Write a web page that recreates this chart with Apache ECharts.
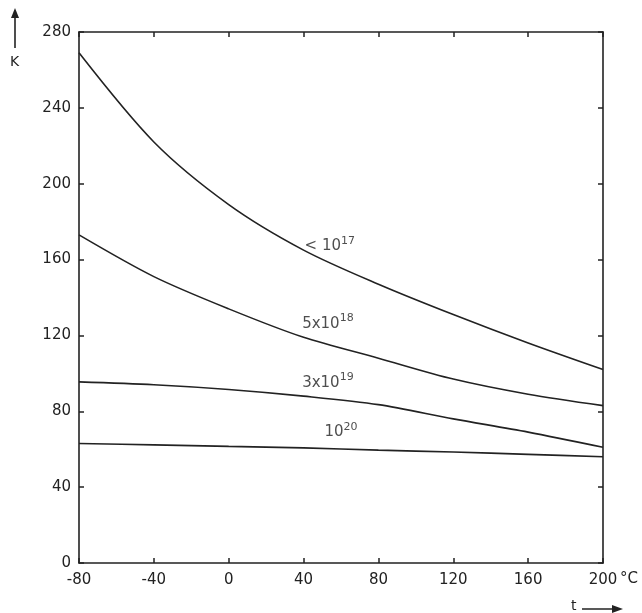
<!DOCTYPE html>
<html>
<head>
<meta charset="utf-8">
<script src="https://cdn.jsdelivr.net/npm/echarts@6/dist/echarts.min.js"></script>
<style>
  html, body { margin: 0; padding: 0; background: #fff; }
  #chart { width: 642px; height: 613px; }
</style>
</head>
<body>
<div id="chart"></div>
<script>
// temperature in °C
const temps = [-80, -40, 0, 40, 80, 120, 160, 200]
// K values, one array per doping level
const kLow17 = [269, 222, 189, 165, 147, 131, 116, 102]
const k5e18 = [173, 151, 134, 119, 108, 97, 89, 83]
const k3e19 = [95.5, 94, 91.5, 88, 83.5, 76, 69, 61]
const k1e20 = [63, 62.3, 61.5, 60.7, 59.5, 58.5, 57.3, 56]
// curve labels: [t, K] in data units + text parts
const curveLabels = [
  { pos: [54, 167], base: '< 10', exp: '17' },
  { pos: [53, 126], base: '5x10', exp: '18' },
  { pos: [53, 95], base: '3x10', exp: '19' },
  { pos: [60, 69], base: '10', exp: '20' }
]

const ink = '#222'
const font = 'DejaVu Sans'

function zip (xs, ys) {
  return xs.map((x, i) => [x, ys[i]])
}

function curve (vals) {
  return {
    type: 'line',
    data: zip(temps, vals),
    smooth: 0.3,
    symbol: 'none',
    lineStyle: { color: ink, width: 1.6 }
  }
}

const myChart = echarts.init(document.getElementById('chart'))

const axisCommon = {
  type: 'value',
  axisLine: { show: true, onZero: false, lineStyle: { color: ink, width: 1.6 } },
  axisTick: { show: true, inside: true, length: 5, lineStyle: { color: ink, width: 1.5 } },
  splitLine: { show: false }
}

const option = {
  animation: false,
  backgroundColor: '#fff',
  grid: { left: 79, right: 39, top: 32, bottom: 50 },
  xAxis: [
    Object.assign({}, axisCommon, {
      min: -80, max: 200, interval: 40,
      axisLabel: { color: ink, fontFamily: font, fontSize: 15, margin: 10 }
    }),
    Object.assign({}, axisCommon, {
      position: 'top', min: -80, max: 200, interval: 40,
      axisLabel: { show: false }
    })
  ],
  yAxis: [
    Object.assign({}, axisCommon, {
      min: 0, max: 280, interval: 40,
      axisLabel: { color: ink, fontFamily: font, fontSize: 15, margin: 8 }
    }),
    Object.assign({}, axisCommon, {
      position: 'right', min: 0, max: 280, interval: 40,
      axisLabel: { show: false }
    })
  ],
  series: [
    curve(kLow17),
    curve(k5e18),
    curve(k3e19),
    curve(k1e20),
    {
      type: 'scatter',
      symbolSize: 0,
      itemStyle: { color: ink },
      data: curveLabels.map(l => ({ value: l.pos, base: l.base, exp: l.exp })),
      label: {
        show: true,
        position: 'inside',
        color: ink,
        textBorderWidth: 0,
        formatter: p => '{b|' + p.data.base + '}{s|' + p.data.exp + '}',
        rich: {
          b: { fontFamily: font, fontSize: 15, color: ink, textBorderWidth: 0 },
          s: { fontFamily: font, fontSize: 11, color: ink, textBorderWidth: 0, padding: [0, 0, 11, 0] }
        }
      }
    }
  ],
  graphic: [
    { type: 'line', shape: { x1: 15, y1: 48, x2: 15, y2: 16 }, style: { stroke: ink, lineWidth: 1.6 } },
    { type: 'polygon', shape: { points: [[11, 18], [19, 18], [15, 8]] }, style: { fill: ink } },
    { type: 'text', left: 10, top: 55, style: { text: 'K', fontFamily: font, fontSize: 14, fill: ink } },
    { type: 'text', left: 620, top: 572, style: { text: '°C', fontFamily: font, fontSize: 15, fill: ink } },
    { type: 'text', left: 571, top: 599, style: { text: 't', fontFamily: font, fontSize: 14, fill: ink } },
    { type: 'line', shape: { x1: 582, y1: 609, x2: 614, y2: 609 }, style: { stroke: ink, lineWidth: 1.5 } },
    { type: 'polygon', shape: { points: [[612, 605], [612, 613], [623, 609]] }, style: { fill: ink } }
  ]
}
myChart.setOption(option)
</script>
</body>
</html>
